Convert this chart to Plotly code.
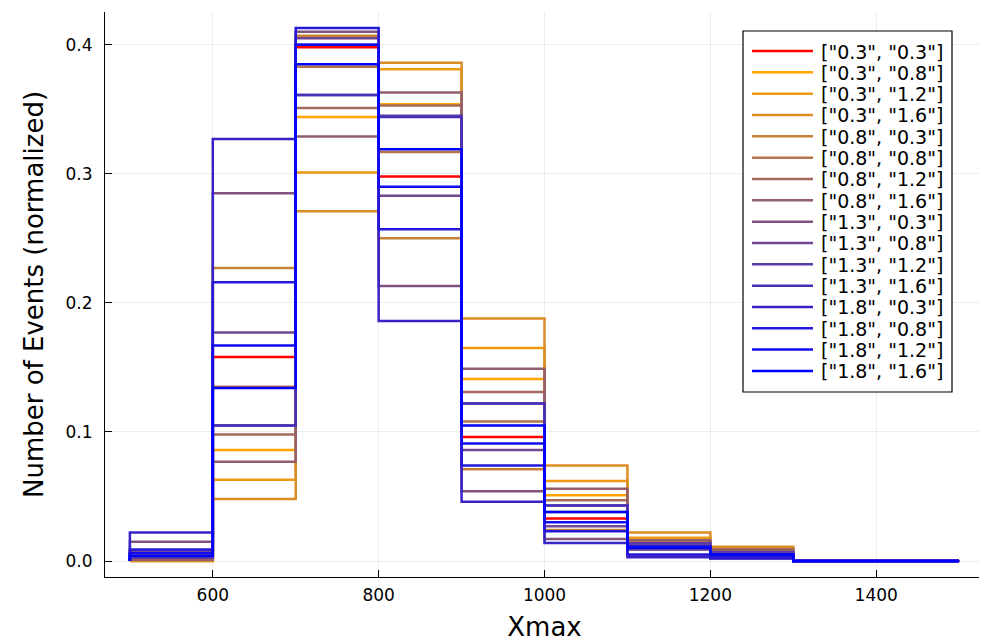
import plotly.graph_objects as go

# Bin edges (Xmax)
edges = [500, 600, 700, 800, 900, 1000, 1100, 1200, 1300, 1400, 1500]

labels = [
    '["0.3", "0.3"]', '["0.3", "0.8"]', '["0.3", "1.2"]', '["0.3", "1.6"]',
    '["0.8", "0.3"]', '["0.8", "0.8"]', '["0.8", "1.2"]', '["0.8", "1.6"]',
    '["1.3", "0.3"]', '["1.3", "0.8"]', '["1.3", "1.2"]', '["1.3", "1.6"]',
    '["1.8", "0.3"]', '["1.8", "0.8"]', '["1.8", "1.2"]', '["1.8", "1.6"]',
]

# normalized bin heights for each series (10 bins: 500-600 ... 1400-1500)
s01 = [0.003, 0.158, 0.398, 0.298, 0.096, 0.033, 0.010, 0.004, 0.0, 0.0]
s02 = [0.001, 0.086, 0.344, 0.354, 0.141, 0.051, 0.015, 0.008, 0.0, 0.0]
s03 = [0.000, 0.063, 0.301, 0.381, 0.165, 0.062, 0.018, 0.010, 0.0, 0.0]
s04 = [0.000, 0.048, 0.271, 0.386, 0.188, 0.074, 0.022, 0.011, 0.0, 0.0]
s05 = [0.006, 0.227, 0.407, 0.250, 0.071, 0.024, 0.009, 0.006, 0.0, 0.0]
s06 = [0.004, 0.135, 0.383, 0.317, 0.108, 0.038, 0.010, 0.005, 0.0, 0.0]
s07 = [0.002, 0.098, 0.351, 0.353, 0.131, 0.047, 0.012, 0.006, 0.0, 0.0]
s08 = [0.001, 0.077, 0.329, 0.363, 0.149, 0.056, 0.016, 0.009, 0.0, 0.0]
s09 = [0.015, 0.285, 0.410, 0.213, 0.054, 0.017, 0.004, 0.002, 0.0, 0.0]
s10 = [0.008, 0.177, 0.405, 0.283, 0.086, 0.027, 0.009, 0.005, 0.0, 0.0]
s11 = [0.003, 0.105, 0.361, 0.345, 0.122, 0.043, 0.014, 0.007, 0.0, 0.0]
s12 = [0.003, 0.105, 0.361, 0.344, 0.122, 0.043, 0.012, 0.005, 0.0, 0.0]
s13 = [0.022, 0.327, 0.400, 0.186, 0.046, 0.014, 0.003, 0.002, 0.0, 0.0]
s14 = [0.009, 0.216, 0.413, 0.257, 0.074, 0.023, 0.005, 0.003, 0.0, 0.0]
s15 = [0.006, 0.167, 0.400, 0.290, 0.091, 0.030, 0.011, 0.005, 0.0, 0.0]
s16 = [0.004, 0.134, 0.385, 0.319, 0.105, 0.038, 0.010, 0.005, 0.0, 0.0]

series = [s01, s02, s03, s04, s05, s06, s07, s08,
          s09, s10, s11, s12, s13, s14, s15, s16]

x_ticks = [600, 800, 1000, 1200, 1400]
y_ticks = [0.0, 0.1, 0.2, 0.3, 0.4]

# colours: red, then linear RGB range from orange to blue
c0 = (255, 165, 0)
c1 = (0, 0, 255)
colors = ["rgb(255,0,0)"]
n = 15
for i in range(n):
    t = i / (n - 1)
    r = round(c0[0] + (c1[0] - c0[0]) * t)
    g = round(c0[1] + (c1[1] - c0[1]) * t)
    b = round(c0[2] + (c1[2] - c0[2]) * t)
    colors.append(f"rgb({r},{g},{b})")

LW = 2.5
fig = go.Figure()
for lab, vals, col in zip(labels, series, colors):
    xs = [edges[0]] + edges
    ys = [0.0] + vals + [vals[-1]]
    fig.add_trace(go.Scatter(
        x=xs, y=ys, mode="lines", name=lab, showlegend=False,
        line=dict(color=col, width=LW, shape="hv"),
    ))

# ---- manual legend (page pixel layout -> paper coords) ----
PX0, PX1, PY0, PY1 = 105.0, 984.0, 12.0, 577.0   # plot area in page px
def px(x):
    return (x - PX0) / (PX1 - PX0)
def py(y):
    return (PY1 - y) / (PY1 - PY0)

shapes = [dict(type="rect", xref="paper", yref="paper",
               x0=px(743), x1=px(952), y0=py(392), y1=py(31),
               line=dict(color="black", width=1.2), fillcolor="white", layer="above")]
annotations = []
for i, (lab, col) in enumerate(zip(labels, colors)):
    yy = 51 + 21.33 * i
    shapes.append(dict(type="line", xref="paper", yref="paper",
                       x0=px(752), x1=px(813), y0=py(yy), y1=py(yy),
                       line=dict(color=col, width=LW), layer="above"))
    annotations.append(dict(xref="paper", yref="paper", x=px(819), y=py(yy + 0.5),
                            xanchor="left", yanchor="middle", showarrow=False,
                            text=lab, font=dict(size=19, family="DejaVu Sans", color="black")))

fig.update_layout(
    width=979, height=636,
    margin=dict(l=97, r=3, t=4, b=67),
    paper_bgcolor="white", plot_bgcolor="white",
    font=dict(family="DejaVu Sans", color="black"),
    showlegend=False,
    shapes=shapes, annotations=annotations,
    xaxis=dict(
        range=[470, 1530], tickvals=x_ticks,
        ticktext=[str(v) for v in x_ticks],
        showgrid=True, gridcolor="rgba(0,0,0,0.07)", gridwidth=1,
        showline=True, linecolor="black", linewidth=1.2,
        ticks="inside", ticklen=7, tickcolor="black",
        zeroline=False, mirror=False, automargin=False,
        tickfont=dict(size=17, color="black"), ticklabelstandoff=2,
        title=dict(text="Xmax", font=dict(size=26), standoff=14),
    ),
    yaxis=dict(
        range=[-0.0124, 0.4254], tickvals=y_ticks,
        ticktext=[f"{v:.1f}" for v in y_ticks],
        showgrid=True, gridcolor="rgba(0,0,0,0.07)", gridwidth=1,
        showline=True, linecolor="black", linewidth=1.2,
        ticks="inside", ticklen=7, tickcolor="black",
        zeroline=False, mirror=False, automargin=False,
        tickfont=dict(size=17, color="black"), ticklabelstandoff=8,
        title=dict(text="Number of Events (normalized)", font=dict(size=26), standoff=14),
    ),
)

fig.write_html("out.html")
